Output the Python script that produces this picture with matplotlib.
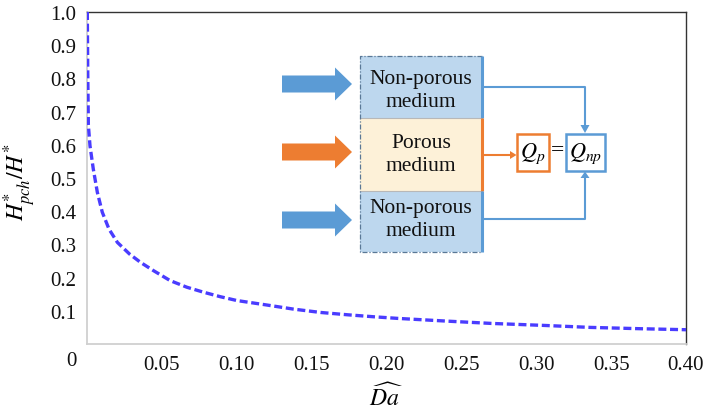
import matplotlib
matplotlib.use("Agg")
import matplotlib.pyplot as plt
from matplotlib.patches import Rectangle, Polygon

plt.rcParams["font.family"] = ["Liberation Serif", "DejaVu Serif"]
plt.rcParams["mathtext.fontset"] = "stix"

# Normalised pinch height versus modified Darcy number
da = [0.0002, 0.0005, 0.0009, 0.002, 0.0042, 0.0069, 0.0102, 0.0147,
      0.0203, 0.0284, 0.0357, 0.0444, 0.0555, 0.0667, 0.0778, 0.089,
      0.100, 0.120, 0.138, 0.156, 0.174, 0.1915, 0.208, 0.240, 0.270,
      0.305, 0.336, 0.370, 0.400]
h_ratio = [1.0, 0.82, 0.66, 0.597, 0.527, 0.457, 0.397, 0.346,
           0.306, 0.271, 0.246, 0.221, 0.191, 0.171, 0.156, 0.1425,
           0.131, 0.1175, 0.105, 0.095, 0.088, 0.082, 0.077, 0.069, 0.062,
           0.056, 0.050, 0.046, 0.043]

x_ticks = [0.05, 0.10, 0.15, 0.20, 0.25, 0.30, 0.35, 0.40]
x_ticklabels = ["0.05", "0.10", "0.15", "0.20", "0.25", "0.30", "0.35", "0.40"]
y_ticks = [0.1, 0.2, 0.3, 0.4, 0.5, 0.6, 0.7, 0.8, 0.9, 1.0]
y_ticklabels = ["0.1", "0.2", "0.3", "0.4", "0.5", "0.6", "0.7", "0.8", "0.9", "1.0"]

W, H = 704, 414
fig = plt.figure(figsize=(W / 100, H / 100), dpi=100)
ax = fig.add_axes([87 / W, 1 - 345 / H, 599 / W, 332 / H])

ax.plot(da, h_ratio, color="#4a3cff", lw=2.4, dashes=(2.4, 1.1),
        dash_capstyle="butt", zorder=3)

ax.set_xlim(0, 0.4)
ax.set_ylim(0, 1.0)
ax.set_xticks(x_ticks)
ax.set_xticklabels(x_ticklabels)
ax.set_yticks(y_ticks)
ax.set_yticklabels(y_ticklabels)
ax.tick_params(length=0, labelsize=15, colors="#111111")
ax.tick_params(axis="x", pad=8)
ax.tick_params(axis="y", pad=8)

for side in ("left", "bottom"):
    ax.spines[side].set_color("#d0d0d0")
    ax.spines[side].set_linewidth(1.3)
for side in ("top", "right"):
    ax.spines[side].set_color("#333333")
    ax.spines[side].set_linewidth(1.0)

fig.text(71 / W, 1 - 362 / H, "0", fontsize=15, ha="center", va="center",
         color="#111111")
fig.text(20 / W, 1 - 182 / H, r"$H^{*}_{pch}/H^{*}$", fontsize=17,
         rotation=90, ha="center", va="center")
fig.text(386 / W, 1 - 397 / H, r"$\widehat{Da}$", fontsize=17,
         ha="center", va="center")

# Schematic of the channel: pixel-space overlay
d = fig.add_axes([0, 0, 1, 1], zorder=5)
d.set_xlim(0, W)
d.set_ylim(H, 0)
d.axis("off")
d.patch.set_alpha(0)

blue = "#5b9bd5"
orange = "#ed7d31"
light_blue = "#bdd7ee"
beige = "#fdf1d8"

bx0, bx1 = 360, 482
y_top, y_a, y_b, y_bot = 57, 119, 192, 253

d.add_patch(Rectangle((bx0, y_top), bx1 - bx0, y_a - y_top, fc=light_blue, ec="none"))
d.add_patch(Rectangle((bx0, y_a), bx1 - bx0, y_b - y_a, fc=beige, ec="none"))
d.add_patch(Rectangle((bx0, y_b), bx1 - bx0, y_bot - y_b, fc=light_blue, ec="none"))
d.plot([bx0, bx1], [y_a, y_a], color="#b8b8b8", lw=0.8)
d.plot([bx0, bx1], [y_b, y_b], color="#b8b8b8", lw=0.8)
d.plot([bx1, bx0, bx0, bx1], [y_top, y_top, y_bot, y_bot], color="#5a7896",
       lw=0.9, linestyle=(0, (4, 1.5, 1, 1.5)))
d.plot([bx1, bx1], [y_top, y_a], color=blue, lw=2.2, solid_capstyle="butt")
d.plot([bx1, bx1], [y_a, y_b], color=orange, lw=2.2, solid_capstyle="butt")
d.plot([bx1, bx1], [y_b, y_bot], color=blue, lw=2.2, solid_capstyle="butt")

txt = dict(fontsize=15.5, ha="center", va="center", linespacing=1.25, color="#111111")
d.text(421, 91, "Non-porous\nmedium", **txt)
d.text(421, 155, "Porous\nmedium", **txt)
d.text(421, 220, "Non-porous\nmedium", **txt)


def block_arrow(yc, color):
    x0, xh, x1 = 282, 335, 352
    sh, hh = 8.5, 16.5
    pts = [(x0, yc - sh), (xh, yc - sh), (xh, yc - hh), (x1, yc),
           (xh, yc + hh), (xh, yc + sh), (x0, yc + sh)]
    d.add_patch(Polygon(pts, closed=True, fc=color, ec="none"))


block_arrow(85, blue)
block_arrow(153, orange)
block_arrow(221, blue)

# flow-rate boxes
d.add_patch(Rectangle((517, 135), 32, 37, fc="white", ec=orange, lw=1.8))
d.add_patch(Rectangle((566, 135), 39, 37, fc="white", ec=blue, lw=1.8))
d.text(533, 154, r"$Q_p$", fontsize=16, ha="center", va="center")
d.text(585.5, 154, r"$Q_{np}$", fontsize=16, ha="center", va="center")
d.text(557.5, 151, "=", fontsize=17, ha="center", va="center")

# connectors
d.plot([bx1 + 1, 585, 585], [88, 88, 126], color=blue, lw=1.5)
d.plot([bx1 + 1, 585, 585], [220, 220, 178], color=blue, lw=1.5)
d.plot([bx1 + 1, 511], [156, 156], color=orange, lw=1.5)
d.add_patch(Polygon([(580.5, 126), (589.5, 126), (585, 134)], fc=blue, ec="none"))
d.add_patch(Polygon([(580.5, 179), (589.5, 179), (585, 172.5)], fc=blue, ec="none"))
d.add_patch(Polygon([(510, 152), (510, 160), (516.5, 156)], fc=orange, ec="none"))

fig.savefig("out.png", dpi=100)
